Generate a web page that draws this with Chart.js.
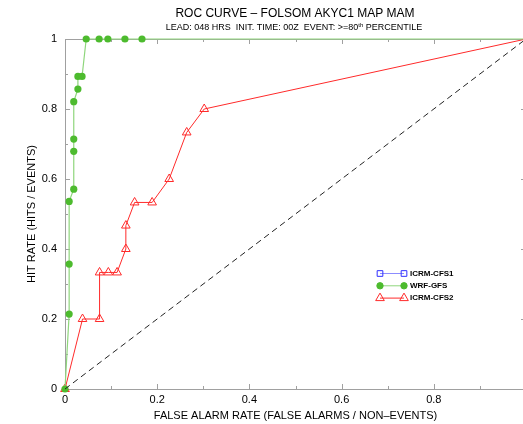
<!DOCTYPE html>
<html>
<head>
<meta charset="utf-8">
<title>ROC Curve - FOLSOM AKYC1</title>
<script src="https://cdn.jsdelivr.net/npm/chart.js@4.4.1/dist/chart.umd.min.js"></script>
<style>
  html, body { margin: 0; padding: 0; background: #fff; overflow: hidden; }
  #wrap { width: 540px; height: 424px; }
</style>
</head>
<body>
<div id="wrap"><canvas id="roc" width="540" height="424"></canvas></div>
<script>
// false alarm rate / hit rate pairs for each model
var cfs1Far = [];
var cfs1Hit = [];

var gfsFar = [0, 0.009, 0.009, 0.009, 0.019, 0.019, 0.019, 0.019, 0.028, 0.028, 0.037, 0.046, 0.074, 0.093, 0.130, 0.167, 1];
var gfsHit = [0, 0.214, 0.357, 0.536, 0.571, 0.679, 0.714, 0.821, 0.857, 0.893, 0.893, 1, 1, 1, 1, 1, 1];

var cfs2Far = [0, 0.038, 0.075, 0.075, 0.094, 0.113, 0.132, 0.132, 0.151, 0.189, 0.226, 0.264, 0.302, 1];
var cfs2Hit = [0, 0.2, 0.2, 0.333, 0.333, 0.333, 0.4, 0.467, 0.533, 0.533, 0.6, 0.733, 0.8, 1];

var noSkill = [0, 1];
var axisTicks = [0, 0.2, 0.4, 0.6, 0.8, 1];

var FONT = '"Liberation Sans", Arial, Helvetica, sans-serif';

function pts(xs, ys) {
  var out = [];
  for (var i = 0; i < xs.length; i++) out.push({ x: xs[i], y: ys[i] });
  return out;
}

// no marker on the closing (1,1) point
function endRadius(r) {
  return function (ctx) {
    var p = ctx.raw;
    return (p && p.x === 1 && p.y === 1) ? 0 : r;
  };
}

function tickText(v) {
  return String(+Number(v).toFixed(1));
}

var frameColor = '#a0a0a0';

var framePlugin = {
  id: 'frame',
  beforeDatasetsDraw: function (chart) {
    var c = chart.ctx, a = chart.chartArea;
    var xs = chart.scales.x, ys = chart.scales.y;
    c.save();
    c.strokeStyle = frameColor;
    c.lineWidth = 1;
    c.beginPath();
    c.moveTo(a.left, a.top + 0.5);
    c.lineTo(a.right, a.top + 0.5);
    c.stroke();
    c.beginPath();
    for (var i = 1; i < 10; i++) {
      var v = i / 10;
      var len = (i % 2 === 0) ? 5 : 3;
      var px = Math.round(xs.getPixelForValue(v)) + 0.5;
      c.moveTo(px, a.bottom); c.lineTo(px, a.bottom - len);
      c.moveTo(px, a.top); c.lineTo(px, a.top + len);
      var py = Math.round(ys.getPixelForValue(v)) + 0.5;
      c.moveTo(a.left, py); c.lineTo(a.left + len, py);
      c.moveTo(a.right, py); c.lineTo(a.right - len, py);
    }
    c.stroke();
    c.restore();
  },
  afterDraw: function (chart) {
    var c = chart.ctx;
    c.save();
    c.fillStyle = '#000';
    c.textBaseline = 'middle';

    // main title
    c.font = '12px ' + FONT;
    c.textAlign = 'center';
    c.fillText('ROC CURVE \u2013 FOLSOM AKYC1 MAP MAM', 295, 14);

    // subtitle with superscript ordinal
    var s1 = 'LEAD: 048 HRS  INIT. TIME: 00Z  EVENT: >=80';
    var sup = 'th';
    var s2 = ' PERCENTILE';
    c.font = '9px ' + FONT;
    var w1 = c.measureText(s1).width, w2 = c.measureText(s2).width;
    c.font = '6px ' + FONT;
    var ws = c.measureText(sup).width;
    var x0 = 294 - (w1 + ws + w2) / 2;
    c.textAlign = 'left';
    c.font = '9px ' + FONT;
    c.fillText(s1, x0, 28);
    c.font = '6px ' + FONT;
    c.fillText(sup, x0 + w1, 25);
    c.font = '9px ' + FONT;
    c.fillText(s2, x0 + w1 + ws, 28);

    // legend: line with a marker at each end, then the label
    var items = [
      { label: 'ICRM-CFS1', ds: 1 },
      { label: 'WRF-GFS', ds: 2 },
      { label: 'ICRM-CFS2', ds: 3 }
    ];
    var lx0 = 380, lx1 = 404, ly = 273;
    items.forEach(function (it, k) {
      var d = chart.data.datasets[it.ds];
      var y = ly + k * 12.3;
      c.strokeStyle = d.borderColor;
      c.lineWidth = 1;
      c.beginPath();
      c.moveTo(lx0, y + 0.5); c.lineTo(lx1, y + 0.5);
      c.stroke();
      [lx0, lx1].forEach(function (x) {
        c.fillStyle = d.pointBackgroundColor;
        c.strokeStyle = d.pointBorderColor;
        c.lineWidth = 1;
        Chart.helpers.drawPoint(c, {
          pointStyle: d.pointStyle,
          radius: d.legendRadius,
          borderWidth: 1
        }, x, y + 0.5);
      });
      c.fillStyle = '#000';
      c.font = 'bold 8px ' + FONT;
      c.textAlign = 'left';
      c.fillText(it.label, 410, y + 0.5);
    });
    c.restore();
  }
};

new Chart(document.getElementById('roc'), {
  type: 'scatter',
  data: {
    datasets: [
      {
        label: 'no skill',
        data: pts(noSkill, noSkill),
        showLine: true,
        borderColor: '#222',
        borderWidth: 1,
        borderDash: [6, 4],
        pointRadius: 0,
        clip: false
      },
      {
        label: 'ICRM-CFS1',
        data: pts(cfs1Far, cfs1Hit),
        showLine: true,
        borderColor: '#8c8cff',
        pointStyle: 'rect',
        pointBackgroundColor: 'rgba(0,0,0,0)',
        pointBorderColor: '#3030ff',
        legendRadius: 4,
        clip: false
      },
      {
        label: 'WRF-GFS',
        data: pts(gfsFar, gfsHit),
        showLine: true,
        borderColor: '#8fd67c',
        borderWidth: 1.2,
        pointStyle: 'circle',
        pointRadius: endRadius(3.6),
        pointBackgroundColor: '#4dbb2e',
        pointBorderColor: '#4dbb2e',
        pointBorderWidth: 0,
        legendRadius: 3.2,
        clip: false
      },
      {
        label: 'ICRM-CFS2',
        data: pts(cfs2Far, cfs2Hit),
        showLine: true,
        borderColor: '#ff2a2a',
        borderWidth: 1,
        pointStyle: 'triangle',
        pointRadius: endRadius(5),
        pointBackgroundColor: 'rgba(0,0,0,0)',
        pointBorderColor: '#ff2a2a',
        pointBorderWidth: 1,
        legendRadius: 5,
        clip: false
      }
    ]
  },
  options: {
    responsive: false,
    animation: false,
    layout: { autoPadding: false, padding: { top: 39, right: 14, left: 0, bottom: 0 } },
    plugins: {
      legend: { display: false },
      tooltip: { enabled: false }
    },
    scales: {
      x: {
        type: 'linear',
        min: 0, max: 1,
        afterBuildTicks: function (s) { s.ticks = axisTicks.map(function (v) { return { value: v }; }); },
        afterFit: function (s) { s.height = 35; },
        grid: { display: false, drawTicks: false },
        border: { display: true, color: frameColor, width: 1 },
        ticks: {
          color: '#000', font: { family: FONT, size: 11 }, padding: 4, maxRotation: 0,
          callback: function (v) { return v >= 1 ? '' : tickText(v); }
        },
        title: {
          display: true,
          text: 'FALSE ALARM RATE (FALSE ALARMS / NON\u2013EVENTS)',
          color: '#000',
          font: { family: FONT, size: 11 },
          padding: { top: 2, bottom: 1 }
        }
      },
      y: {
        type: 'linear',
        min: 0, max: 1,
        afterBuildTicks: function (s) { s.ticks = axisTicks.map(function (v) { return { value: v }; }); },
        afterFit: function (s) { s.width = 65; },
        grid: { display: false, drawTicks: false },
        border: { display: true, color: frameColor, width: 1 },
        ticks: {
          color: '#000', font: { family: FONT, size: 11 }, padding: 8,
          callback: function (v) { return tickText(v); }
        },
        title: {
          display: true,
          text: 'HIT RATE (HITS / EVENTS)',
          color: '#000',
          font: { family: FONT, size: 11 },
          padding: { top: 25, bottom: 0 }
        }
      }
    }
  },
  plugins: [framePlugin]
});
</script>
</body>
</html>
